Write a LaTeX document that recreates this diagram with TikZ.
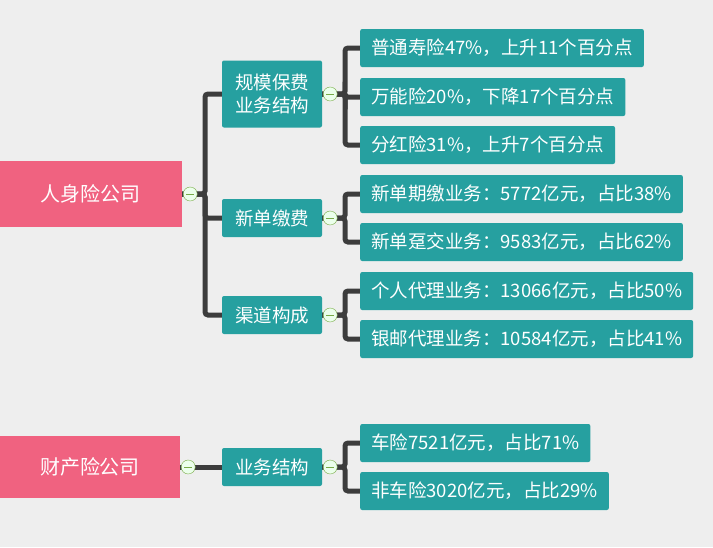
\documentclass[tikz,border=0pt]{standalone}
\usepackage{fontspec}
\setmainfont{Noto Sans CJK SC}
\definecolor{rootpink}{RGB}{240,98,128}
\definecolor{boxteal}{RGB}{38,160,160}
\definecolor{linegray}{RGB}{60,60,60}
\definecolor{bggray}{RGB}{238,238,238}
\definecolor{knobgreen}{RGB}{120,170,70}
\tikzset{
  rootbox/.style={fill=rootpink, text=white, font=\fontsize{20}{23}\selectfont, minimum width=182pt, minimum height=66pt, inner sep=0pt},
  midbox/.style={fill=boxteal, text=white, rounded corners=2pt, font=\fontsize{18.5}{23}\selectfont, minimum width=100pt, minimum height=38pt, align=center, inner sep=2pt},
  leafbox/.style={fill=boxteal, text=white, rounded corners=2pt, font=\fontsize{18.5}{21}\selectfont, minimum height=38pt, inner xsep=11pt, anchor=west},
  knob/.style={circle, draw=knobgreen, fill=green!8, minimum size=14pt, inner sep=0pt, path picture={\draw[knobgreen] ([xshift=-4pt]path picture bounding box.center) -- ([xshift=4pt]path picture bounding box.center);}},
  branch/.style={draw=linegray, line width=5pt, rounded corners=3pt}
}
\begin{document}
\begin{tikzpicture}[x=1pt,y=-1pt]
\fill[bggray] (0,0) rectangle (713,547);
% connectors
\foreach \y/\yy in {94/94,218/218,315/315}
  \path[branch] (182,194) -- (205,194) |- (222,\yy);
\path[branch] (180,467) -- (222,467);
\foreach \x/\y/\yy in {322/94/48,322/94/97,322/94/145,322/218/194,322/218/242,322/315/291,322/315/339,322/467/443,322/467/491}
  \path[branch] (\x,\y) -- (345,\y) |- (362,\yy);
% roots
\node[rootbox] (life) at (91,194) {人身险公司};
\node[rootbox, minimum width=180pt, minimum height=62pt] (prop) at (90,467) {财产险公司};
% middle
\node[midbox, minimum height=67pt] (scale) at (272,94) {规模保费\\业务结构};
\node[midbox] (newp) at (272,218) {新单缴费};
\node[midbox] (chan) at (272,315) {渠道构成};
\node[midbox] (pstr) at (272,467) {业务结构};
% leaves
\node[leafbox] (l1) at (360,48) {普通寿险47\%，上升11个百分点};
\node[leafbox] (l2) at (360,97) {万能险20\%，下降17个百分点};
\node[leafbox] (l3) at (360,145) {分红险31\%，上升7个百分点};
\node[leafbox] (l4) at (360,194) {新单期缴业务：5772亿元，占比38\%};
\node[leafbox] (l5) at (360,242) {新单趸交业务：9583亿元，占比62\%};
\node[leafbox] (l6) at (360,291) {个人代理业务：13066亿元，占比50\%};
\node[leafbox] (l7) at (360,339) {银邮代理业务：10584亿元，占比41\%};
\node[leafbox] (l8) at (360,443) {车险7521亿元，占比71\%};
\node[leafbox] (l9) at (360,491) {非车险3020亿元，占比29\%};
% collapse knobs
\node[knob] (k1) at ([xshift=8pt]life.east) {};
\node[knob] (k2) at ([xshift=8pt]prop.east) {};
\foreach \m in {scale,newp,chan,pstr}
  \node[knob] at ([xshift=8pt]\m.east) {};
\end{tikzpicture}
\end{document}
